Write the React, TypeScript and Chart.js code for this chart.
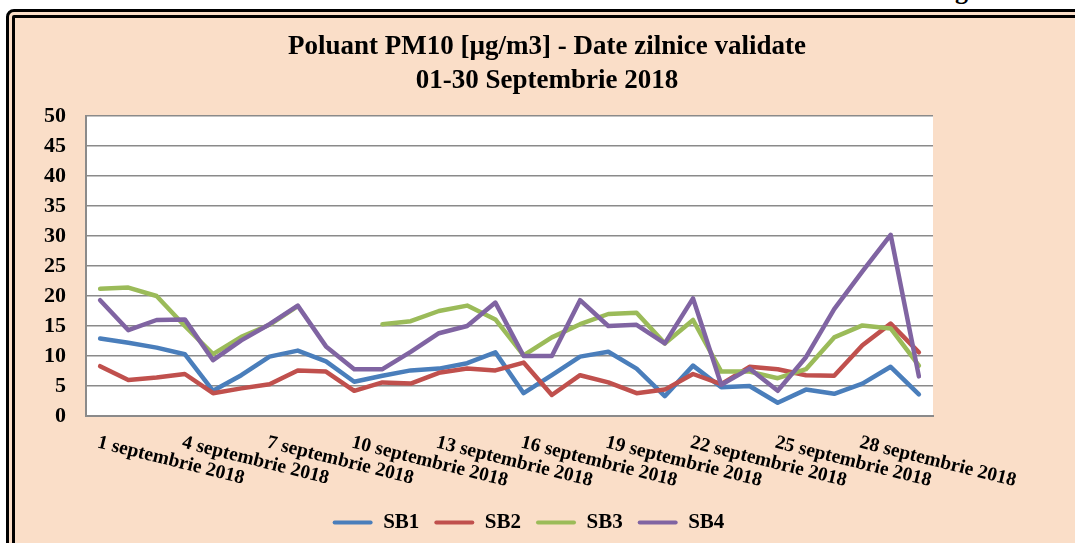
import React, { useEffect, useRef } from 'react';
import { Chart, registerables } from 'chart.js';

Chart.register(...registerables);

const categories = [
  '1 septembrie 2018', '2 septembrie 2018', '3 septembrie 2018', '4 septembrie 2018',
  '5 septembrie 2018', '6 septembrie 2018', '7 septembrie 2018', '8 septembrie 2018',
  '9 septembrie 2018', '10 septembrie 2018', '11 septembrie 2018', '12 septembrie 2018',
  '13 septembrie 2018', '14 septembrie 2018', '15 septembrie 2018', '16 septembrie 2018',
  '17 septembrie 2018', '18 septembrie 2018', '19 septembrie 2018', '20 septembrie 2018',
  '21 septembrie 2018', '22 septembrie 2018', '23 septembrie 2018', '24 septembrie 2018',
  '25 septembrie 2018', '26 septembrie 2018', '27 septembrie 2018', '28 septembrie 2018',
  '29 septembrie 2018', '30 septembrie 2018',
];

const sb1 = [12.9, 12.2, 11.4, 10.3, 4.2, 6.8, 9.9, 10.9, 9.1, 5.7, 6.7, 7.6, 7.9, 8.8, 10.6, 3.8, 6.8, 9.9, 10.7, 7.9, 3.3, 8.4, 4.8, 5.0, 2.2, 4.4, 3.7, 5.4, 8.2, 3.6];
const sb2 = [8.3, 6.0, 6.4, 7.0, 3.8, 4.6, 5.3, 7.6, 7.4, 4.2, 5.6, 5.4, 7.2, 7.9, 7.6, 8.9, 3.5, 6.8, 5.6, 3.8, 4.4, 7.0, 5.3, 8.2, 7.8, 6.8, 6.7, 11.8, 15.4, 10.6];
const sb3 = [21.2, 21.4, 20.0, 15.0, 10.3, 13.2, 15.2, 18.3, null, null, 15.3, 15.8, 17.5, 18.4, 16.1, 10.1, 13.1, 15.3, 17.0, 17.2, 12.1, 16.0, 7.4, 7.4, 6.3, 7.8, 13.1, 15.1, 14.6, 8.4];
const sb4 = [19.3, 14.3, 16.0, 16.1, 9.3, 12.6, 15.3, 18.4, 11.6, 7.8, 7.8, 10.7, 13.8, 15.0, 18.9, 10.0, 10.0, 19.3, 15.0, 15.2, 12.1, 19.6, 5.2, 7.9, 4.2, 9.8, 17.8, 24.1, 30.2, 6.6];

const seriesNames = ['SB1', 'SB2', 'SB3', 'SB4'];
const seriesColors = ['#4A7EBB', '#C0504D', '#9BBB59', '#8064A2'];
const titleLines = ['Poluant PM10 [µg/m3] - Date zilnice validate', '01-30 Septembrie 2018'];
const yMin = 0;
const yMax = 50;
const yStep = 5;
const labelEvery = 3;

const FONT = "'Liberation Serif', 'Times New Roman', serif";
const GRID = '#8a8a8a';

const plotBg = {
  id: 'plotBg',
  beforeDraw(chart: any) {
    const { ctx, chartArea: a } = chart;
    ctx.save();
    ctx.fillStyle = '#ffffff';
    ctx.fillRect(a.left, a.top, a.width, a.height);
    ctx.restore();
  },
};

const slantedLabels = {
  id: 'slantedLabels',
  afterDraw(chart: any) {
    const xs = chart.scales.x;
    const ctx = chart.ctx;
    ctx.save();
    ctx.font = `bold 19.5px ${FONT}`;
    ctx.fillStyle = '#000';
    ctx.textAlign = 'left';
    ctx.textBaseline = 'top';
    categories.forEach((lab, i) => {
      if (i % labelEvery !== 0) return;
      const px = xs.getPixelForValue(i);
      ctx.save();
      ctx.translate(px, xs.top + 17);
      ctx.rotate((14 * Math.PI) / 180);
      ctx.fillText(lab, 0, 0);
      ctx.restore();
    });
    ctx.restore();
  },
};

export default function App() {
  const ref = useRef<HTMLCanvasElement | null>(null);

  useEffect(() => {
    document.body.style.margin = '0';
    document.body.style.overflow = 'hidden';
    if (!ref.current) return;
    const data = [sb1, sb2, sb3, sb4];
    const chart = new Chart(ref.current, {
      type: 'line',
      data: {
        labels: categories,
        datasets: data.map((d, i) => ({
          label: seriesNames[i],
          data: d,
          borderColor: seriesColors[i],
          backgroundColor: seriesColors[i],
          borderWidth: 4.5,
          pointRadius: 0,
          pointHoverRadius: 0,
          tension: 0,
          fill: false,
          spanGaps: false,
          borderCapStyle: 'round',
          borderJoinStyle: 'round',
          order: 3 - i,
        })),
      },
      options: {
        responsive: false,
        animation: false,
        devicePixelRatio: 1,
        layout: { padding: { left: 0, right: 18, top: 116, bottom: 0 } },
        scales: {
          x: {
            type: 'category',
            offset: true,
            grid: { display: false },
            border: { display: true, color: GRID, width: 2 },
            ticks: { display: false },
            afterFit: (s: any) => { s.height = 81; },
          },
          y: {
            type: 'linear',
            min: yMin,
            max: yMax,
            ticks: {
              stepSize: yStep,
              color: '#000',
              padding: 20,
              font: { family: FONT, size: 22, weight: 'bold' },
            },
            grid: { color: GRID, lineWidth: 1.6, drawTicks: false },
            border: { display: true, color: GRID, width: 2 },
            afterFit: (s: any) => { s.width = 86; },
          },
          yPad: {
            type: 'linear',
            position: 'right',
            display: true,
            grid: { display: false },
            border: { display: false },
            ticks: { display: false },
            afterFit: (s: any) => { s.width = 124; },
          },
        },
        plugins: {
          title: { display: false },
          tooltip: { enabled: false },
          legend: {
            display: true,
            position: 'bottom',
            labels: {
              boxWidth: 40,
              boxHeight: 4,
              padding: 15,
              color: '#000',
              font: { family: FONT, size: 21, weight: 'bold' },
              sort: (a: any, b: any) => a.datasetIndex - b.datasetIndex,
              generateLabels: (c: any) =>
                (Chart as any).defaults.plugins.legend.labels
                  .generateLabels(c)
                  .map((l: any) => ({ ...l, lineWidth: 0, borderRadius: 2 })),
            },
          },
        },
      } as any,
      plugins: [plotBg, slantedLabels],
    });
    return () => chart.destroy();
  }, []);

  return (
    <div style={{ position: 'fixed', left: 0, top: 0, width: 1075, height: 543, overflow: 'hidden', background: '#fff' }}>
      <div
        style={{
          position: 'absolute', left: 6, top: 9, width: 1200, height: 700,
          boxSizing: 'border-box', border: '9px double #000', borderRadius: 8, background: '#FADEC8',
        }}
      />
      <div
        style={{
          position: 'absolute', left: 955, top: -22, fontFamily: FONT, fontSize: 26,
          fontWeight: 'bold', lineHeight: '26px', color: '#000',
        }}
      >
        g
      </div>
      <canvas ref={ref} width={1075} height={543} style={{ position: 'absolute', left: 0, top: 0, display: 'block' }} />
      <div
        style={{
          position: 'absolute', left: 0, top: 28, width: 1094, textAlign: 'center',
          fontFamily: FONT, fontSize: 27, fontWeight: 'bold', lineHeight: '34px', color: '#000',
        }}
      >
        {titleLines.map((t, i) => (
          <div key={i}>{t}</div>
        ))}
      </div>
    </div>
  );
}
